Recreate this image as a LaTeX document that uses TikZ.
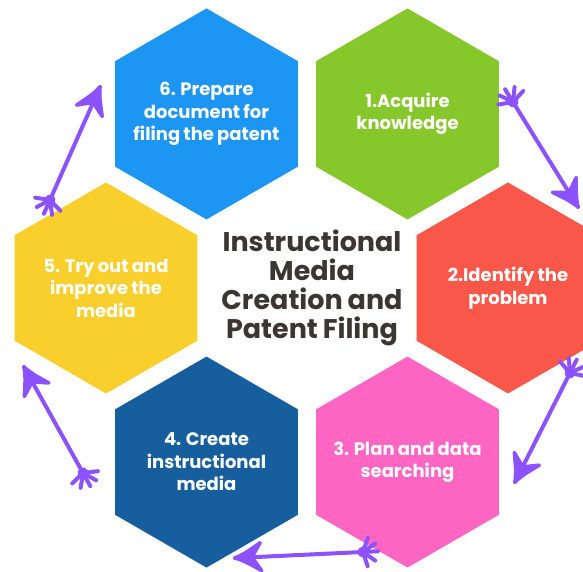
\documentclass[tikz,border=0pt]{standalone}
\usepackage{fontspec}
\setmainfont{Poppins}[WordSpace=0.85]
\usetikzlibrary{shapes.geometric}

\definecolor{hexblue}{HTML}{1C95F3}
\definecolor{hexgreen}{HTML}{86C82B}
\definecolor{hexred}{HTML}{F8574A}
\definecolor{hexyellow}{HTML}{F9CF2E}
\definecolor{hexnavy}{HTML}{165E9E}
\definecolor{hexpink}{HTML}{FF66C4}
\definecolor{flowpurple}{HTML}{8C52FF}
\definecolor{titlegray}{HTML}{3B3634}

\tikzset{
  hexbox/.style={regular polygon, regular polygon sides=6, shape border rotate=30,
    minimum size=211pt, inner sep=0pt},
  hextext/.style={align=center, text=white, inner sep=0pt,
    font=\fontsize{18}{22.5}\selectfont\bfseries},
  flow/.style={flowpurple, line width=4pt, line cap=round},
  hand/.pic={
    \fill (0,0) circle (5.5pt);
    \foreach \a in {-75,-38,0,32,68}
      \draw[line width=4pt,line cap=round] (0,0) -- (\a:15pt);
  },
  tip/.pic={
    \filldraw[line width=3.5pt, line join=round]
      (0,0) .. controls (-10pt,4pt) .. (-26pt,14pt) -- (-17pt,0pt)
      -- (-26pt,-14pt) .. controls (-10pt,-4pt) .. (0,0) -- cycle;
  }
}

\begin{document}
\begin{tikzpicture}[x=1pt,y=1pt]
    \useasboundingbox (-307,-284) rectangle (276,288);
    % hexagons
    \node[hexbox, fill=hexgreen,  label={[hextext]center:1.Acquire\\knowledge}] (h1) at (60:201) {};
    \node[hexbox, fill=hexred,    label={[hextext]center:2.Identify the\\problem}] (h2) at (0:201) {};
    \node[hexbox, fill=hexpink,   label={[hextext]center:3. Plan and data\\searching}] (h3) at (-60:201) {};
    \node[hexbox, fill=hexnavy,   label={[hextext]center:4. Create\\instructional\\media}] (h4) at (-120:201) {};
    \node[hexbox, fill=hexyellow, label={[hextext]center:5. Try out and\\improve the\\media}] (h5) at (180:201) {};
    \node[hexbox, fill=hexblue,   label={[hextext]center:6. Prepare\\document for\\filing the patent}] (h6) at (120:201) {};
    % title
    \node[align=center, text=titlegray, font=\fontsize{27}{29}\selectfont\bfseries] (title) at (5,0)
      {Instructional\\Media\\Creation and\\Patent Filing};
    % arrow ends
    \coordinate (a1s) at (206,186);   \coordinate (a1e) at (271,81);
    \coordinate (a2s) at (263,-85);   \coordinate (a2e) at (208,-194);
    \coordinate (a3s) at (56,-264);   \coordinate (a3e) at (-72,-270);
    \coordinate (a4s) at (-224,-185); \coordinate (a4e) at (-283,-79);
    \coordinate (a5s) at (-257,88);   \coordinate (a5e) at (-207,201);
    % arrows
    \draw[flow] (a1s) -- (a1e);
    \draw[flow] (a2s) -- (a2e);
    \draw[flow] (a3s) -- (a3e);
    \draw[flow] (a4s) -- (a4e);
    \draw[flow] (a5s) -- (a5e);
    % heads
    \pic[flowpurple, rotate=-58]  at (a1e) {tip};
    \pic[flowpurple, rotate=-117] at (a2e) {tip};
    \pic[flowpurple, rotate=-177] at (a3e) {tip};
    \pic[flowpurple, rotate=119]  at (a4e) {tip};
    \pic[flowpurple, rotate=66]   at (a5e) {tip};
    % hands at the tails
    \pic[flowpurple, rotate=122] at (a1s) {hand};
    \pic[flowpurple, rotate=63]  at (a2s) {hand};
    \pic[flowpurple, rotate=3]   at (a3s) {hand};
    \pic[flowpurple, rotate=-61] at (a4s) {hand};
    \pic[flowpurple, rotate=-114] at (a5s) {hand};
\end{tikzpicture}
\end{document}
